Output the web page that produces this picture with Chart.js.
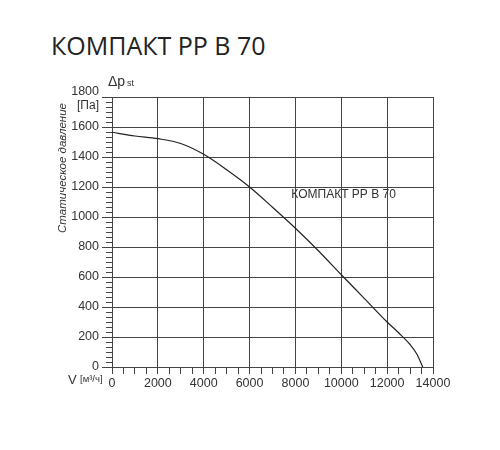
<!DOCTYPE html>
<html>
<head>
<meta charset="utf-8">
<script src="https://cdn.jsdelivr.net/npm/chart.js@4"></script>
<style>
  html, body { margin: 0; padding: 0; background: #fff; }
  #wrap { position: relative; width: 500px; height: 450px; }
  #title {
    position: absolute; left: 51px; top: 28px;
    font-family: "Open Sans", sans-serif; font-size: 25px; color: #222;
    white-space: nowrap;
  }
  canvas { position: absolute; left: 0; top: 0; }
</style>
</head>
<body>
<div id="wrap">
  <div id="title">КОМПАКТ РР В 70</div>
  <canvas id="chart" width="500" height="450"></canvas>
</div>
<script>
// Airflow (m3/h) and static pressure (Pa)
const airflow = [0, 1000, 2000, 3000, 4000, 5000, 6000, 7000, 8000, 9000, 10000, 11000, 12000, 12500, 13000, 13300, 13550];
const pressure = [1565, 1540, 1522, 1490, 1418, 1315, 1200, 1065, 925, 775, 615, 458, 300, 228, 150, 85, 0];

const xTicks = [0, 2000, 4000, 6000, 8000, 10000, 12000, 14000];
const yTicks = [0, 200, 400, 600, 800, 1000, 1200, 1400, 1600];
const yTopTick = 1800; // drawn a little higher to leave room for [Па]
const curveName = 'КОМПАКТ РР В 70';
const curveLabelAt = { x: 10100, y: 1150 };

const tickFont = { family: '"Liberation Sans", Arial, sans-serif', size: 12.5 };
const gridColor = '#454545';

// minor ticks on the pressure axis + axis captions
const extras = {
  id: 'extras',
  afterDraw(chart) {
    const { ctx, chartArea, scales } = chart;
    const x = scales.x, y = scales.y;
    ctx.save();
    ctx.strokeStyle = gridColor;
    ctx.lineWidth = 1;
    const step = 200 / 6;
    for (let v = 0; v <= 1800 + 0.01; v += step) {
      const py = Math.round(y.getPixelForValue(v)) + 0.5;
      ctx.beginPath();
      ctx.moveTo(chartArea.left - 6, py);
      ctx.lineTo(chartArea.left, py);
      ctx.stroke();
    }

    ctx.fillStyle = '#333';
    ctx.textBaseline = 'middle';
    // curve name
    ctx.font = '12px "Liberation Sans", Arial, sans-serif';
    ctx.textAlign = 'center';
    ctx.fillText(curveName, x.getPixelForValue(curveLabelAt.x), y.getPixelForValue(curveLabelAt.y));

    // top pressure tick label and unit
    ctx.textAlign = 'right';
    ctx.font = '12.5px "Liberation Sans", Arial, sans-serif';
    ctx.fillText(String(yTopTick), chartArea.left - 13, y.getPixelForValue(yTopTick) - 5);
    ctx.font = '12px "Liberation Sans", Arial, sans-serif';
    ctx.fillText('[Па]', chartArea.left - 13, chartArea.top + 9);

    // Δp st
    ctx.textAlign = 'left';
    ctx.font = '14px "Liberation Sans", Arial, sans-serif';
    ctx.fillText('Δp', chartArea.left - 4, chartArea.top - 15);
    ctx.font = '9px "Liberation Sans", Arial, sans-serif';
    ctx.fillText('st', chartArea.left + 15, chartArea.top - 13);

    // V [м³/ч]
    ctx.font = '13px "Liberation Sans", Arial, sans-serif';
    ctx.fillText('V', chartArea.left - 44, chartArea.bottom + 13);
    ctx.font = '9.5px "Liberation Sans", Arial, sans-serif';
    ctx.fillText('[м³/ч]', chartArea.left - 32, chartArea.bottom + 12);

    // rotated caption
    ctx.translate(chartArea.left - 49, (chartArea.top + chartArea.bottom) / 2 - 64);
    ctx.rotate(-Math.PI / 2);
    ctx.textAlign = 'center';
    ctx.font = 'italic 11.5px "Liberation Sans", Arial, sans-serif';
    ctx.fillText('Статическое давление', 0, 0);
    ctx.restore();
  }
};

new Chart(document.getElementById('chart'), {
  type: 'scatter',
  data: {
    datasets: [{
      label: curveName,
      data: airflow.map((v, i) => ({ x: v, y: pressure[i] })),
      showLine: true,
      borderColor: '#222',
      borderWidth: 1.2,
      pointRadius: 0,
      cubicInterpolationMode: 'monotone'
    }]
  },
  options: {
    responsive: false,
    animation: false,
    layout: { padding: { left: 52, top: 97, right: 67, bottom: 63 } },
    plugins: { legend: { display: false }, tooltip: { enabled: false } },
    scales: {
      x: {
        type: 'linear',
        min: 0,
        max: 14000,
        afterFit: s => { s.height = 20; },
        border: { color: gridColor },
        grid: {
          color: c => (c.tick && c.tick.value % 2000 === 0 ? gridColor : 'transparent'),
          tickColor: gridColor,
          tickLength: 7
        },
        ticks: {
          stepSize: 500,
          autoSkip: false,
          maxRotation: 0,
          padding: 2,
          color: '#333',
          font: tickFont,
          callback: v => (xTicks.includes(v) ? String(v) : '')
        }
      },
      y: {
        type: 'linear',
        min: 0,
        max: 1800,
        afterFit: s => { s.width = 60; },
        border: { color: gridColor },
        grid: { color: gridColor, tickColor: gridColor, tickLength: 10 },
        ticks: {
          stepSize: 200,
          autoSkip: false,
          padding: 3,
          color: '#333',
          font: tickFont,
          callback: v => (yTicks.includes(v) ? String(v) : '')
        }
      }
    }
  },
  plugins: [extras]
});
</script>
</body>
</html>
